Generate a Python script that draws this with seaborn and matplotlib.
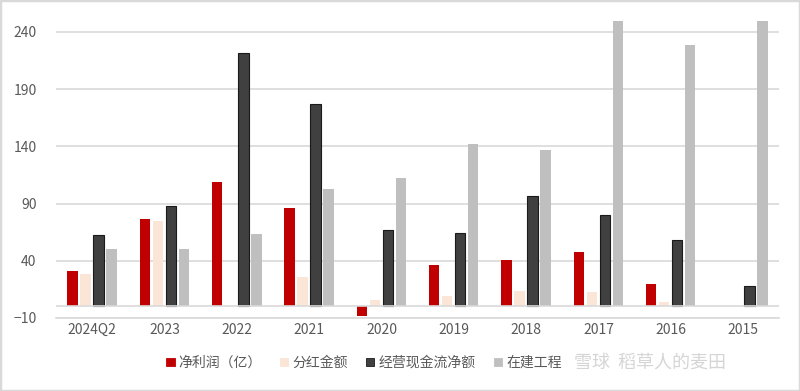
import matplotlib
matplotlib.use("Agg")
import matplotlib.pyplot as plt
import seaborn as sns
import pandas as pd
from matplotlib.patches import Rectangle

categories = ["2024Q2", "2023", "2022", "2021", "2020", "2019", "2018", "2017", "2016", "2015"]
net_profit = [31.4, 76.6, 109.2, 85.9, -8.0, 36.4, 40.5, 48.0, 19.5, 0]
dividend = [28.2, 75.1, 0, 25.9, 5.8, 9.3, 13.9, 12.2, 4.0, 0]
op_cash = [62.3, 87.9, 221.4, 176.8, 67.0, 64.0, 96.4, 79.8, 58.5, 17.7]
construction = [50.3, 50.3, 63.7, 103.1, 112.2, 142.1, 136.9, 249.7, 228.7, 249.7]
series_names = ["净利润（亿）", "分红金额", "经营现金流净额", "在建工程"]
yticks = [-10, 40, 90, 140, 190, 240]

colors = ["#C00000", "#FBE5D6", "#404040", "#BFBFBF"]
edges = ["#C00000", "#FBE5D6", "#1a1a1a", "#BFBFBF"]

rows = []
for name, vals in zip(series_names, [net_profit, dividend, op_cash, construction]):
    for c, v in zip(categories, vals):
        rows.append({"cat": c, "series": name, "value": v})
df = pd.DataFrame(rows)

sns.set_theme(style="white")
plt.rcParams["font.family"] = ["Noto Sans CJK SC", "DejaVu Sans"]

fig = plt.figure(figsize=(8, 3.91), dpi=100)
ax = fig.add_axes([0.07, 0.187, 0.904, 0.778])

sns.barplot(data=df, x="cat", y="value", hue="series", order=categories,
            hue_order=series_names, palette=colors, width=0.72, gap=0.2,
            ax=ax, legend=False, saturation=1)

n = len(categories)
for i, patch in enumerate(ax.patches[:n * 4]):
    s = i // n
    patch.set_edgecolor(edges[s])
    patch.set_linewidth(0.8 if s == 2 else 0)

ax.set_ylim(-10, 256)
ax.set_xlim(-0.5, n - 0.5)
ax.set_yticks(yticks)
ax.yaxis.grid(True, color="#D9D9D9", linewidth=1.2)
ax.set_axisbelow(True)
ax.axhline(0, color="#D9D9D9", linewidth=1.2, zorder=1)
for sp in ["top", "right", "left"]:
    ax.spines[sp].set_visible(False)
ax.spines["bottom"].set_color("#D9D9D9")
ax.spines["bottom"].set_linewidth(1.2)
ax.set_xlabel("")
ax.set_ylabel("")
ax.tick_params(axis="both", colors="#595959", labelsize=10, length=0)
ax.tick_params(axis="y", pad=14)

handles = [Rectangle((0, 0), 1, 1, facecolor=c, edgecolor=e, linewidth=0.6)
           for c, e in zip(colors, edges)]
leg = fig.legend(handles, series_names, loc="center", bbox_to_anchor=(0.455, 0.072),
                 ncol=4, frameon=False, fontsize=10, handlelength=0.6,
                 handleheight=0.6, handletextpad=0.3, columnspacing=1.3)
for t in leg.get_texts():
    t.set_color("#595959")

fig.text(0.717, 0.072, "雪球  稻草人的麦田", ha="left", va="center",
         fontsize=13, color="#C8C8C8", alpha=0.75)

fig.patches.append(Rectangle((0, 0), 1, 1, transform=fig.transFigure,
                             fill=False, edgecolor="#D9D9D9", linewidth=2.5))

fig.savefig("out.png", dpi=100)
